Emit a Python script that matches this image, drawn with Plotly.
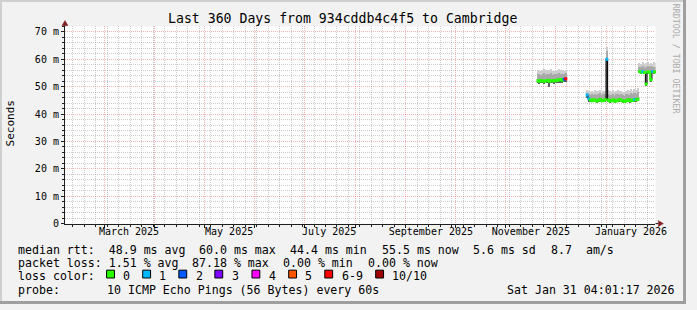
import plotly.graph_objects as go
import pandas as pd

W, H = 697, 310

# ---------------- data ----------------
range_start = "2025-02-05 04:01:17"
range_end = "2026-01-31 04:01:17"

seg1_start = "2025-11-20"
seg1_median = [52.2, 52.0, 52.3, 52.1, 51.9, 52.2, 52.4, 52.0, 52.3, 52.2, 52.1, 52.4, 52.3, 52.5, 52.6, 52.4, 52.7, 52.9]
seg1_high = [55.8, 56.1, 55.5, 55.9, 56.3, 55.6, 55.9, 56.0, 56.2, 55.4, 55.7, 56.0, 55.8, 56.3, 55.9, 56.1, 55.7, 56.0]
seg1_mid = [54.3, 54.6, 54.1, 54.4, 54.7, 54.2, 54.5, 54.6, 54.7, 54.0, 54.3, 54.5, 54.4, 54.8, 54.5, 54.6, 54.3, 54.7]
seg1_low = [51.0, 50.9, 51.1, 51.0, 50.8, 51.0, 51.2, 49.7, 51.1, 51.0, 50.9, 51.2, 51.1, 51.2, 51.3, 51.2, 51.4, 51.5]
seg1_loss = [0, 0, 0, 0, 0, 0, 0, 0, 0, 0, 0, 0, 0, 0, 0, 0, 2, 6]

seg2_start = "2025-12-20"
seg2_median = [47.0, 45.6, 45.1, 44.9, 45.2, 45.0, 44.8, 45.1, 45.3, 44.9, 45.0, 45.2,
               60.0, 45.1, 44.8, 45.0, 45.2, 44.7, 44.9, 45.1, 45.3, 45.0, 44.8, 44.6,
               45.0, 45.2, 44.9, 45.1, 45.0, 45.3, 45.2, 45.4]
seg2_high = [48.5, 48.2, 48.0, 48.4, 47.9, 48.6, 48.1, 48.3, 48.8, 48.0, 48.4, 48.2,
             64.5, 48.6, 48.2, 48.0, 48.5, 47.9, 48.3, 48.7, 48.1, 48.4, 48.0, 47.8,
             48.3, 48.6, 48.2, 48.9, 48.4, 49.0, 48.6, 49.2]
seg2_mid = [47.4, 47.0, 46.8, 47.1, 46.7, 47.2, 46.9, 47.0, 47.4, 46.8, 47.1, 47.0,
            63.0, 47.3, 46.9, 46.8, 47.2, 46.6, 47.0, 47.3, 46.9, 47.1, 46.8, 46.6,
            47.0, 47.3, 46.9, 47.5, 47.1, 47.6, 47.3, 47.8]
seg2_low = [45.8, 44.3, 44.2, 44.1, 44.3, 44.2, 44.0, 44.2, 44.4, 44.1, 44.2, 44.3,
            45.0, 44.2, 44.0, 44.1, 44.3, 43.9, 44.1, 44.2, 44.4, 44.1, 44.0, 43.8,
            44.1, 44.3, 44.0, 44.2, 44.1, 44.4, 44.3, 44.5]
seg2_loss = [1, 1, 0, 0, 0, 0, 0, 0, 0, 0, 0, 0,
             1, 0, 0, 0, 0, 0, 0, 0, 0, 0, 0, 0,
             0, 0, 0, 0, 0, 1, 0, 0]

seg3_start = "2026-01-21"
seg3_median = [55.6, 55.3, 55.5, 55.2, 51.0, 55.4, 55.3, 52.5, 55.6, 55.4, 55.5]
seg3_high = [58.6, 58.2, 58.8, 58.0, 58.5, 58.9, 58.3, 58.6, 58.1, 58.7, 58.4]
seg3_mid = [57.2, 56.9, 57.4, 56.8, 57.1, 57.5, 57.0, 57.3, 56.9, 57.2, 57.0]
seg3_low = [54.8, 54.6, 54.7, 54.5, 50.2, 54.6, 54.5, 51.6, 54.8, 54.6, 54.7]
seg3_loss = [0, 0, 1, 0, 0, 0, 0, 0, 1, 0, 0]

loss_labels = ["0", "1", "2", "3", "4", "5", "6-9", "10/10"]
loss_colors = ["#26ff00", "#00b8ff", "#0059ff", "#7e00ff", "#ff00ff", "#ff5500", "#ff0000", "#a10000"]

y_tickvals = [0, 10, 20, 30, 40, 50, 60, 70]
y_ticktext = ["0", "10 m", "20 m", "30 m", "40 m", "50 m", "60 m", "70 m"]

title_text = "Last 360 Days from 934cddb4c4f5 to Cambridge"
legend_rtt = ["median rtt:  48.9 ms avg", "60.0 ms max", "44.4 ms min", "55.5 ms now", "5.6 ms sd", "8.7  am/s"]
legend_loss = ["packet loss: 1.51 % avg", "87.18 % max", "0.00 % min", "0.00 % now"]
probe_text = "10 ICMP Echo Pings (56 Bytes) every 60s"
stamp_text = "Sat Jan 31 04:01:17 2026"

# ---------------- styling ----------------
MONO = "DejaVu Sans Mono"
BG = "#F2F2F2"
GRID = "rgba(143,143,143,0.45)"
MGRID = "rgba(222,79,79,0.42)"
AXIS = "#1F1F1F"
ARROW = "#801F1F"
DAY_MS = 86400000

PX0, PX1 = 66, 666   # plot area left/right in pixels
PY0, PY1 = 27, 228   # plot area top/bottom in pixels


def fx(px):
    return px / W


def fy(py):
    return 1 - py / H


def loss_index(n):
    if n <= 5:
        return n
    if n <= 9:
        return 6
    return 7


fig = go.Figure()

segments = [
    (seg1_start, seg1_median, seg1_high, seg1_mid, seg1_low, seg1_loss),
    (seg2_start, seg2_median, seg2_high, seg2_mid, seg2_low, seg2_loss),
    (seg3_start, seg3_median, seg3_high, seg3_mid, seg3_low, seg3_loss),
]

for start, med, hi, mid, lo, loss in segments:
    dates = pd.date_range(start + " 12:00", periods=len(med), freq="D").strftime("%Y-%m-%d %H:%M").tolist()
    for top, col in ((hi, "#cdcdcd"), (mid, "#a8a8a8"), (med, "#5f5f5f")):
        fig.add_trace(go.Bar(
            x=dates, y=[t - b for t, b in zip(top, lo)], base=lo, width=DAY_MS,
            marker=dict(color=col, line=dict(width=0)), hoverinfo="skip"))
    # dark median line
    fig.add_trace(go.Scatter(x=dates, y=med, mode="lines", line_shape="hvh",
                             line=dict(color="#000000", width=1), hoverinfo="skip"))
    # green (no loss) median line, broken at loss points and large jumps
    gx, gy = [], []
    for i, v in enumerate(med):
        val = v if loss[i] == 0 else None
        if i > 0 and abs(v - med[i - 1]) > 3:
            gx.append(dates[i]); gy.append(None)
        gx.append(dates[i]); gy.append(val)
    fig.add_trace(go.Scatter(x=gx, y=gy, mode="lines", connectgaps=False, line_shape="hvh",
                             line=dict(color=loss_colors[0], width=2), hoverinfo="skip"))
    fig.add_trace(go.Scatter(x=dates, y=med, mode="markers",
                             marker=dict(symbol="square", size=3,
                                         color=[loss_colors[loss_index(n)] for n in loss],
                                         line=dict(width=0)),
                             hoverinfo="skip"))

fig.update_layout(
    width=W, height=H,
    margin=dict(l=0, r=0, t=0, b=0),
    paper_bgcolor=BG, plot_bgcolor="#FFFFFF",
    showlegend=False, barmode="overlay", bargap=0,
    font=dict(family=MONO, color="#000000"),
    xaxis=dict(
        type="date", domain=[fx(PX0), fx(PX1)], range=[range_start, range_end],
        showline=True, linecolor=AXIS, linewidth=1, zeroline=False,
        tick0="2025-03-01", dtick="M1", tickformat="%B %Y", ticklabelstep=2,
        ticklabelshift=25, ticklabelstandoff=-5, ticks="outside", ticklen=3, tickcolor=AXIS,
        tickfont=dict(family=MONO, size=10, color="#000000"),
        showgrid=True, gridcolor=MGRID, griddash="1px,1px", gridwidth=1,
        minor=dict(tick0="2025-02-10", dtick=7 * DAY_MS, showgrid=True, gridcolor=GRID,
                   griddash="1px,1px", gridwidth=1, ticks="outside", ticklen=2, tickcolor=AXIS),
        fixedrange=True,
    ),
    yaxis=dict(
        domain=[fy(PY1), fy(PY0)], range=[0, 72],
        tickmode="array", tickvals=y_tickvals, ticktext=y_ticktext,
        showline=True, linecolor=AXIS, linewidth=1, zeroline=False,
        ticks="outside", ticklen=3, tickcolor=AXIS,
        tickfont=dict(family=MONO, size=10, color="#000000"),
        showgrid=True, gridcolor=MGRID, griddash="1px,1px", gridwidth=1,
        minor=dict(tickmode="array", tickvals=[v for v in range(0, 73, 2) if v % 10],
                   showgrid=True, gridcolor=GRID, griddash="1px,1px",
                   gridwidth=1, ticks="outside", ticklen=2, tickcolor=AXIS),
        fixedrange=True,
    ),
)

shapes = []
# border shading
shapes.append(dict(type="rect", xref="paper", yref="paper", x0=0, x1=1, y0=fy(2), y1=1,
                   fillcolor="#CFCFCF", line=dict(width=0), layer="below"))
shapes.append(dict(type="rect", xref="paper", yref="paper", x0=0, x1=fx(2), y0=0, y1=1,
                   fillcolor="#CFCFCF", line=dict(width=0), layer="below"))
shapes.append(dict(type="rect", xref="paper", yref="paper", x0=fx(W - 3), x1=1, y0=0, y1=1,
                   fillcolor="#9E9E9E", line=dict(width=0)))
shapes.append(dict(type="rect", xref="paper", yref="paper", x0=0, x1=1, y0=0, y1=fy(H - 3),
                   fillcolor="#9E9E9E", line=dict(width=0)))
# axis arrows
shapes.append(dict(type="line", xref="paper", yref="paper", x0=fx(PX1), x1=fx(669),
                   y0=fy(PY1), y1=fy(PY1), line=dict(color=AXIS, width=1)))
shapes.append(dict(type="path", xref="paper", yref="paper",
                   path=f"M {fx(669)},{fy(PY1 - 3)} L {fx(674)},{fy(PY1)} L {fx(669)},{fy(PY1 + 3)} Z",
                   fillcolor=ARROW, line=dict(color=ARROW, width=0.5)))
shapes.append(dict(type="line", xref="paper", yref="paper", x0=fx(PX0), x1=fx(PX0),
                   y0=fy(PY0), y1=fy(25), line=dict(color=AXIS, width=1)))
shapes.append(dict(type="path", xref="paper", yref="paper",
                   path=f"M {fx(PX0 - 3)},{fy(26)} L {fx(PX0)},{fy(21)} L {fx(PX0 + 3)},{fy(26)} Z",
                   fillcolor=ARROW, line=dict(color=ARROW, width=0.5)))

annotations = []


def text(x, y, s, size=11.6, anchor="left", color="#000000", angle=0):
    annotations.append(dict(x=fx(x), y=fy(y), xref="paper", yref="paper", text=s.replace(" ", "\u00a0"),
                            showarrow=False, xanchor=anchor, yanchor="middle", textangle=angle,
                            font=dict(family=MONO, size=size, color=color)))


text(348, 19, title_text, size=13.2, anchor="center")
text(11, 126, "Seconds", size=11, anchor="center", angle=-90)
text(687, 60, "RRDTOOL / TOBI OETIKER", size=8.3, anchor="center", color="#ABABAB", angle=90)

rtt_x = [16, 200, 293, 386, 479, 558]
for x, s in zip(rtt_x, legend_rtt):
    text(x, 254.5, s)
loss_x = [16, 193, 286, 372]
for x, s in zip(loss_x, legend_loss):
    text(x, 268.5, s)

text(16, 281.5, "loss color:")
box_x = [108.3, 145, 181.7, 218.3, 256, 293.3, 330, 381.7]
for x, lab, col in zip(box_x, loss_labels, loss_colors):
    shapes.append(dict(type="rect", xref="paper", yref="paper", x0=fx(x), x1=fx(x + 8),
                       y0=fy(283.5), y1=fy(275.5), fillcolor=col, line=dict(color="#000000", width=1)))
    text(x + 15, 281.5, lab)

text(16, 295.5, "probe:")
text(107, 295.5, probe_text)
text(513, 295.5, stamp_text)

fig.update_layout(shapes=shapes, annotations=annotations)
fig.write_html("out.html")
